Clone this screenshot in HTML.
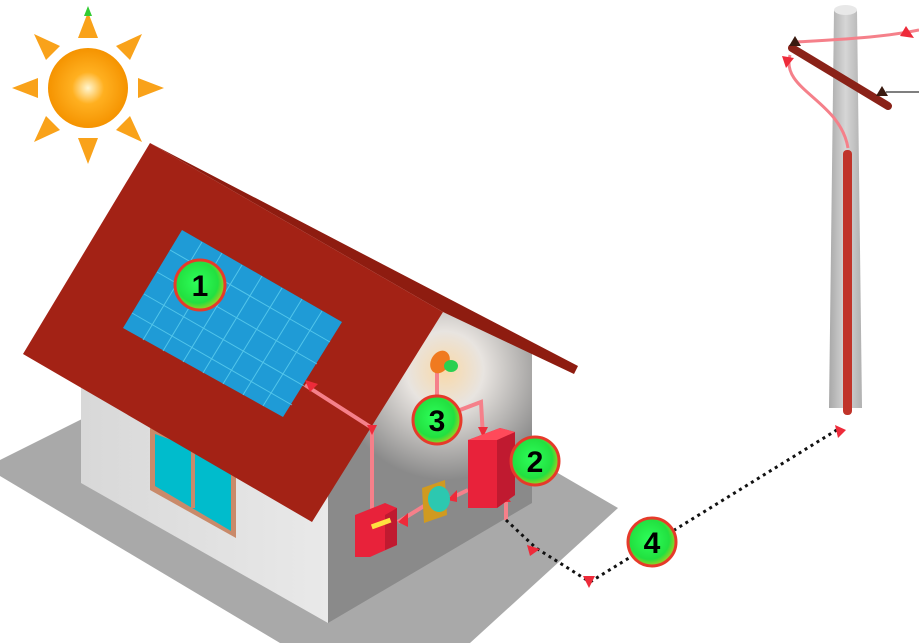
<!DOCTYPE html>
<html><head><meta charset="utf-8"><style>
html,body{margin:0;padding:0;background:#fff;width:919px;height:643px;overflow:hidden}
svg{display:block}
text{font-family:"Liberation Sans",sans-serif;font-weight:bold}
</style></head><body>
<svg width="919" height="643" viewBox="0 0 919 643" xmlns="http://www.w3.org/2000/svg">
<defs>
<radialGradient id="sun" cx="50%" cy="50%" r="50%"><stop offset="0" stop-color="#fff6d0"/><stop offset="0.4" stop-color="#ffb020"/><stop offset="1" stop-color="#f59300"/></radialGradient>
<radialGradient id="glow" cx="445" cy="370" r="110" gradientUnits="userSpaceOnUse"><stop offset="0" stop-color="#f9d9a8"/><stop offset="0.35" stop-color="#e8e4e0"/><stop offset="1" stop-color="#8a8a8a"/></radialGradient>
<linearGradient id="front" x1="0" y1="0" x2="1" y2="0"><stop offset="0" stop-color="#d8d8d8"/><stop offset="1" stop-color="#e9e9e9"/></linearGradient>
<linearGradient id="pole" x1="0" y1="0" x2="1" y2="0"><stop offset="0" stop-color="#a8a8a8"/><stop offset="0.5" stop-color="#d6d6d6"/><stop offset="1" stop-color="#b0b0b0"/></linearGradient>
<radialGradient id="lab" cx="45%" cy="45%" r="55%"><stop offset="0" stop-color="#2dff5a"/><stop offset="0.75" stop-color="#22e040"/><stop offset="1" stop-color="#a0d020"/></radialGradient>
</defs>

<!-- sun -->
<g fill="#f9a21a">
<polygon points="88,12 78,38 98,38"/>
<polygon points="88,164 78,138 98,138"/>
<polygon points="12,88 38,78 38,98"/>
<polygon points="164,88 138,78 138,98"/>
<polygon points="34,34 46,60 60,46"/>
<polygon points="142,34 116,46 130,60"/>
<polygon points="34,142 60,130 46,116"/>
<polygon points="142,142 130,116 116,130"/>
</g>
<polygon points="88,6 84,16 92,16" fill="#3c3"/>
<circle cx="88" cy="88" r="40" fill="url(#sun)"/>

<!-- ground -->
<polygon points="0,460 100,410 532,458 618,508 470,643 280,643 0,476" fill="#a9a9a9"/>

<!-- walls -->
<polygon points="81,375 328,470 328,623 81,483" fill="url(#front)"/>
<polygon points="443,312 532,352 532,503 328,623 328,470" fill="url(#glow)"/>

<!-- window -->
<polygon points="150,428 236,458 236,538 150,490" fill="#c98a6a"/>
<polygon points="155,434 231,462 231,531 155,486" fill="#00bccc"/>
<line x1="193" y1="447" x2="193" y2="508" stroke="#c98a6a" stroke-width="4"/>

<!-- roof -->
<polygon points="150,143 578,366 574,374 443,312" fill="#8e1c10"/>
<polygon points="150,143 23,354 312,522 443,312" fill="#a32215"/>

<!-- panel -->
<polygon points="182,230 342,322 283,417 123,328" fill="#1f9bd6"/>
<g stroke="#5fd0f0" stroke-width="1" opacity="0.8">
<line x1="170" y1="250" x2="330" y2="342"/>
<line x1="157" y1="272" x2="317" y2="364"/>
<line x1="144" y1="294" x2="304" y2="386"/>
<line x1="132" y1="313" x2="292" y2="405"/>
<line x1="202" y1="242" x2="143" y2="340"/>
<line x1="222" y1="253" x2="163" y2="351"/>
<line x1="242" y1="265" x2="183" y2="362"/>
<line x1="262" y1="276" x2="203" y2="373"/>
<line x1="282" y1="288" x2="223" y2="384"/>
<line x1="302" y1="299" x2="243" y2="395"/>
<line x1="322" y1="311" x2="263" y2="406"/>
</g>

<!-- wiring -->
<g stroke="#f5808a" stroke-width="4" fill="none">
<polyline points="305,385 372,428 372,515"/>
<polyline points="468,490 447,500"/>
<polyline points="424,506 398,522"/>
<polyline points="460,410 481,402 483,437"/>
<polyline points="437,395 437,372"/>
<polyline points="506,495 506,520"/>
</g>
<g fill="#ee2b3a">
<polygon points="305,380 318,384 310,392"/>
<polygon points="367,425 377,425 372,435"/>
<polygon points="478,427 488,427 483,437"/>
<polygon points="447,500 457,490 457,502"/>
<polygon points="398,522 408,513 408,527"/>
<polygon points="501,502 511,502 506,495"/>
</g>

<!-- dotted -->
<g stroke="#111" stroke-width="3" stroke-dasharray="3,4" fill="none">
<polyline points="506,520 536,548 590,582 840,428"/>
</g>
<polygon points="527,545 540,549 530,556" fill="#ee2b3a"/>
<polygon points="583,576 595,576 589,588" fill="#ee2b3a"/>
<polygon points="835,425 846,430 838,438" fill="#ee2b3a"/>

<!-- components -->
<polygon points="468,440 500,428 515,432 515,495 497,508 468,508" fill="#e8223a"/>
<polygon points="497,440 515,432 515,495 497,508" fill="#c01a30"/>
<polygon points="468,440 500,428 515,432 497,440" fill="#ff4a5a"/>
<polygon points="355,515 385,503 397,508 397,545 370,557 355,557" fill="#e8223a"/>
<polygon points="385,515 397,508 397,545 385,550" fill="#c01a30"/>
<rect x="371" y="521" width="20" height="5" fill="#ffe040" transform="rotate(-20 381 523)"/>
<polygon points="422,488 445,480 447,515 424,523" fill="#d09a20"/>
<ellipse cx="439" cy="499" rx="11" ry="13" fill="#2cc8b0"/>
<ellipse cx="440" cy="362" rx="9" ry="12" fill="#f07a20" transform="rotate(30 440 362)"/>
<ellipse cx="451" cy="366" rx="7" ry="6" fill="#2ad050"/>

<!-- labels -->
<g font-size="30" text-anchor="middle">
<circle cx="200" cy="285" r="25" fill="url(#lab)" stroke="#e63a2a" stroke-width="3"/>
<text x="200" y="296">1</text>
<circle cx="535" cy="461" r="24" fill="url(#lab)" stroke="#e63a2a" stroke-width="3"/>
<text x="535" y="472">2</text>
<circle cx="437" cy="420" r="24" fill="url(#lab)" stroke="#e63a2a" stroke-width="3"/>
<text x="437" y="431">3</text>
<circle cx="652" cy="542" r="24" fill="url(#lab)" stroke="#e63a2a" stroke-width="3"/>
<text x="652" y="553">4</text>
</g>

<!-- pole -->
<polygon points="834,10 857,10 862,408 829,408" fill="url(#pole)"/>
<ellipse cx="845.5" cy="10" rx="11.5" ry="5" fill="#e8e8e8"/>
<line x1="886" y1="92" x2="919" y2="92" stroke="#555" stroke-width="1.5"/>
<path d="M919,30 C880,38 830,40 795,42" stroke="#f5808a" stroke-width="3" fill="none"/>
<path d="M790,55 C780,90 840,100 848,148" stroke="#f5808a" stroke-width="3" fill="none"/>
<polygon points="906,26 914,38 900,36" fill="#ee2b3a"/>
<polygon points="782,56 794,58 786,68" fill="#ee2b3a"/>
<line x1="792" y1="48" x2="888" y2="106" stroke="#8a2218" stroke-width="8" stroke-linecap="round"/>
<polygon points="795,36 801,46 789,46" fill="#3a1a10"/>
<polygon points="882,86 888,96 876,96" fill="#3a1a10"/>
<rect x="843" y="150" width="9" height="265" rx="4" fill="#c0342a"/>
</svg>
</body></html>
